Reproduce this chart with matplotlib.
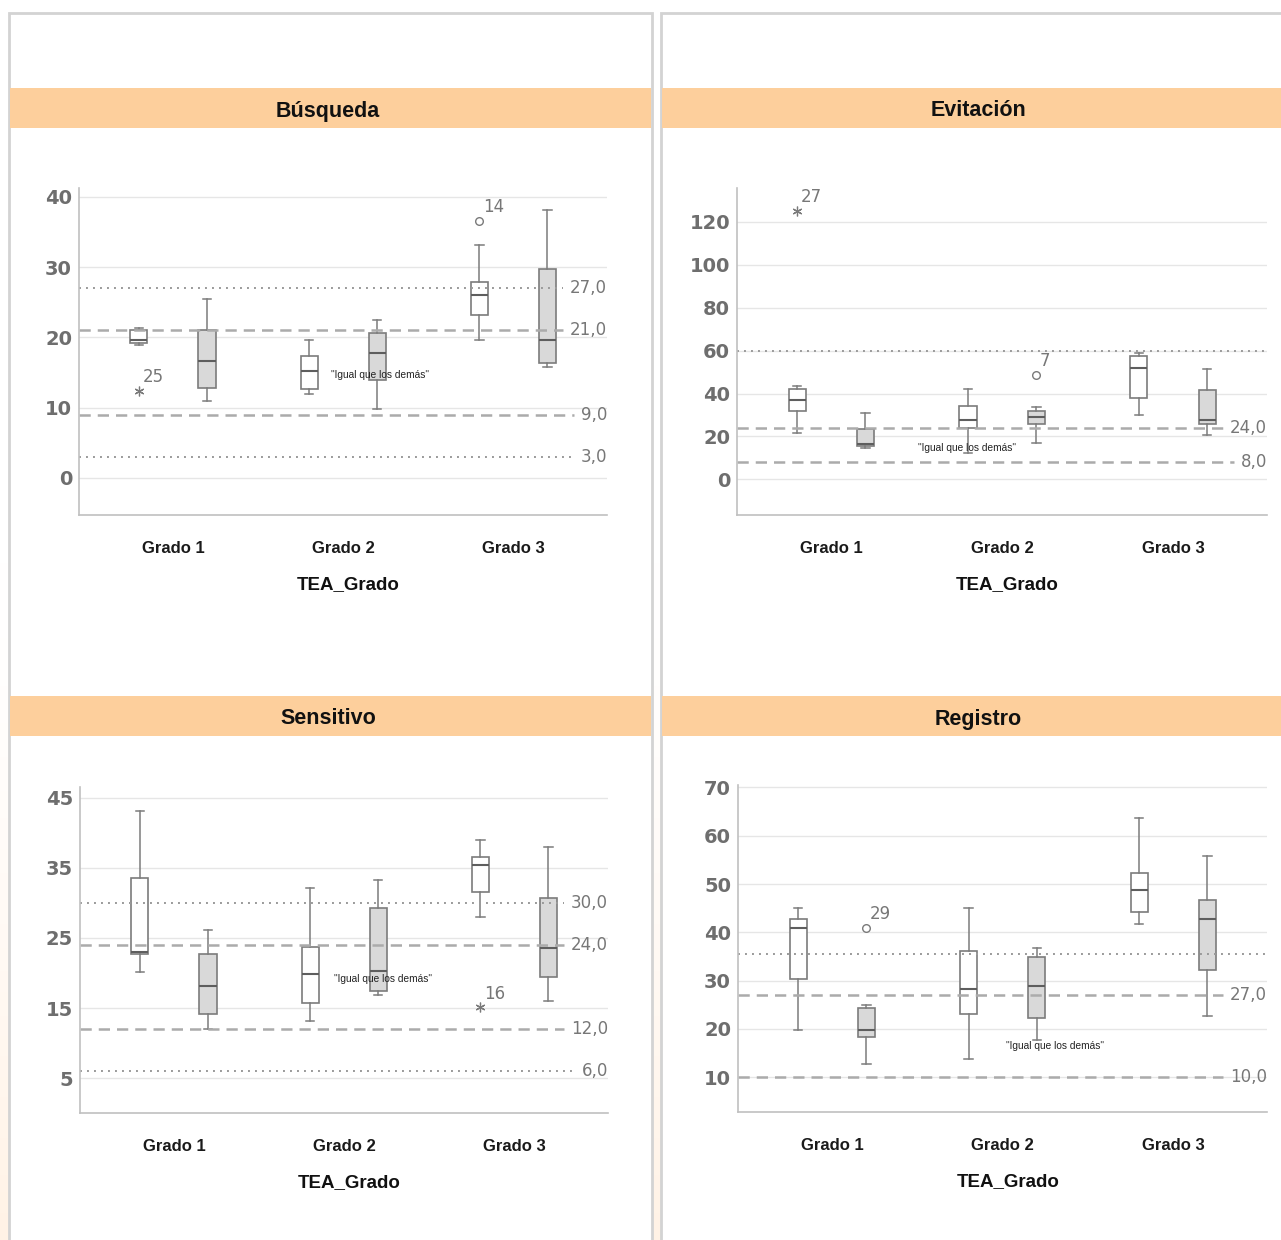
import numpy as np
import matplotlib
matplotlib.use('Agg')
import matplotlib.pyplot as plt
from matplotlib.patches import Rectangle

W, H = 1281, 1240

grados = ['Grado 1', 'Grado 2', 'Grado 3']
eje_x = 'TEA_Grado'
nota = '"Igual que los demás"'
titulos = ['Búsqueda', 'Evitación', 'Sensitivo', 'Registro']

# cada fila: whislo, q1, med, q3, whishi (Grado 1, 2, 3)
busq_blanco = [[18.9, 19.2, 19.6, 21.0, 21.3], [12.0, 12.7, 15.3, 17.3, 19.7], [19.6, 23.2, 26.0, 27.9, 33.1]]
busq_gris = [[11.0, 12.8, 16.7, 21.0, 25.5], [9.8, 13.9, 17.8, 20.6, 22.5], [15.8, 16.3, 19.6, 29.8, 38.1]]
busq_ref = [27, 21, 9, 3]
busq_ref_lbl = ['27,0', '21,0', '9,0', '3,0']
busq_ref_tipo = ['dot', 'dash', 'dash', 'dot']
busq_atip = [(0, 12.4, 'star', '25'), (4, 36.6, 'circle', '14')]

evit_blanco = [[21.7, 32.1, 36.8, 42.1, 43.6], [12.4, 24.0, 27.6, 34.0, 42.2], [29.8, 38.0, 52.0, 57.6, 58.7]]
evit_gris = [[14.7, 15.7, 16.6, 23.3, 30.9], [16.8, 25.9, 29.3, 32.1, 33.7], [20.6, 25.9, 27.5, 41.8, 51.5]]
evit_ref = [60, 24, 8]
evit_ref_lbl = ['', '24,0', '8,0']
evit_ref_tipo = ['dot', 'dash', 'dash']
evit_atip = [(0, 125.0, 'star', '27'), (3, 48.7, 'circle', '7')]

sens_blanco = [[20.2, 22.7, 23.0, 33.6, 43.1], [13.2, 15.8, 19.8, 23.7, 32.1], [28.0, 31.5, 35.4, 36.5, 39.0]]
sens_gris = [[12.0, 14.2, 18.2, 22.7, 26.2], [16.9, 17.4, 20.3, 29.3, 33.3], [16.0, 19.4, 23.5, 30.7, 37.9]]
sens_ref = [30, 24, 12, 6]
sens_ref_lbl = ['30,0', '24,0', '12,0', '6,0']
sens_ref_tipo = ['dot', 'dash', 'dash', 'dot']
sens_atip = [(4, 15.1, 'star', '16')]

reg_blanco = [[19.8, 30.3, 40.9, 42.8, 45.0], [13.8, 23.0, 28.3, 36.2, 45.0], [41.7, 44.3, 48.7, 52.3, 63.7]]
reg_gris = [[12.7, 18.3, 19.7, 24.3, 24.9], [17.7, 22.2, 28.8, 34.8, 36.8], [22.6, 32.3, 42.8, 46.7, 55.9]]
reg_ref = [35.6, 27, 10]
reg_ref_lbl = ['', '27,0', '10,0']
reg_ref_tipo = ['dot', 'dash', 'dash']
reg_atip = [(1, 40.9, 'circle', '29')]

SANS = ['Liberation Sans', 'DejaVu Sans']
GRIS_BORDE = '#7c7c7c'
NARANJA = '#fdcf9c'

fig = plt.figure(figsize=(W / 100, H / 100), dpi=100)

# fondo, marcos de panel y bandas de titulo, en pixeles
bg = fig.add_axes([0, 0, 1, 1], zorder=-10)
bg.set_xlim(0, W)
bg.set_ylim(H, 0)
bg.axis('off')
grad = np.linspace(0, 1, 200).reshape(-1, 1) ** 1.5
tinte = np.ones((200, 1, 3))
tinte[:, 0, 1] = 1 - 0.05 * grad[:, 0]
tinte[:, 0, 2] = 1 - 0.10 * grad[:, 0]
bg.imshow(tinte, extent=(0, W, H, 560), aspect='auto', zorder=0)
for x0, x1 in [(9, 652), (661, 1300)]:
    bg.add_patch(Rectangle((x0, 13), x1 - x0, 1260, facecolor='white',
                           edgecolor='#d3d3d3', lw=2, zorder=1))
bandas = [(10, 651, 88, 128, 328), (662, 1281, 88, 128, 978),
          (10, 651, 696, 736, 328), (662, 1281, 696, 736, 978)]
for (x0, x1, y0, y1, xc), tit in zip(bandas, titulos):
    bg.add_patch(Rectangle((x0, y0), x1 - x0, y1 - y0, facecolor=NARANJA,
                           edgecolor='none', zorder=2))
    bg.text(xc, (y0 + y1) / 2 + 3, tit, ha='center', va='center', fontsize=15.5,
            fontweight='bold', family=SANS, color='#111111', zorder=3)

paneles = [
    dict(caja=(79, 188, 607, 515), ylim=(-5.27, 41.28), yticks=range(0, 41, 10),
         blanco=busq_blanco, gris=busq_gris, ref=busq_ref, lbl=busq_ref_lbl,
         tipo=busq_ref_tipo, atip=busq_atip, nota=(1.93, 14.7)),
    dict(caja=(737, 188, 1267, 515), ylim=(-16.6, 135.8), yticks=range(0, 121, 20),
         blanco=evit_blanco, gris=evit_gris, ref=evit_ref, lbl=evit_ref_lbl,
         tipo=evit_ref_tipo, atip=evit_atip, nota=(1.51, 14.6)),
    dict(caja=(80, 787, 608, 1113), ylim=(0.06, 46.5), yticks=range(5, 46, 10),
         blanco=sens_blanco, gris=sens_gris, ref=sens_ref, lbl=sens_ref_lbl,
         tipo=sens_ref_tipo, atip=sens_atip, nota=(1.94, 19.1)),
    dict(caja=(738, 785, 1267, 1112), ylim=(2.8, 70.5), yticks=range(10, 71, 10),
         blanco=reg_blanco, gris=reg_gris, ref=reg_ref, lbl=reg_ref_lbl,
         tipo=reg_ref_tipo, atip=reg_atip, nota=(2.02, 16.5)),
]

x_cat = np.arange(1, 4)
desp = 0.2


def stats_de(filas):
    return [dict(whislo=f[0], q1=f[1], med=f[2], q3=f[3], whishi=f[4], fliers=[]) for f in filas]


pendientes = []
for p in paneles:
    x0, y0, x1, y1 = p['caja']
    ax = fig.add_axes([x0 / W, 1 - y1 / H, (x1 - x0) / W, (y1 - y0) / H], zorder=5)
    ax.set_facecolor('none')
    ax.set_xlim(0.448, 3.55)
    ax.set_ylim(*p['ylim'])
    ax.set_yticks(list(p['yticks']))
    ax.yaxis.grid(True, color='#e6e6e6', lw=1)
    ax.set_axisbelow(True)
    for s in ['top', 'right']:
        ax.spines[s].set_visible(False)
    for s in ['left', 'bottom']:
        ax.spines[s].set_color('#c0c0c0')
        ax.spines[s].set_linewidth(1.2)
    ax.tick_params(length=0)
    ax.tick_params(axis='y', labelsize=14, labelcolor='#6e6e6e', pad=5)
    for t in ax.get_yticklabels():
        t.set_fontweight('bold')
    ax.set_xticks(x_cat)
    ax.set_xticklabels(grados, fontsize=12, fontweight='bold', family=SANS, color='#1a1a1a')
    ax.tick_params(axis='x', pad=19)
    ax.set_xlabel(eje_x, fontsize=13.5, fontweight='bold', family=SANS, color='#111111')
    ax.xaxis.set_label_coords(0.51, -0.212)
    ax.xaxis.label.set_va('center')

    comun = dict(widths=0.1, patch_artist=True, showfliers=False, capwidths=0.05,
                 medianprops=dict(color='#5e5e5e', lw=1.5),
                 whiskerprops=dict(color=GRIS_BORDE, lw=1.1),
                 capprops=dict(color=GRIS_BORDE, lw=1.1), manage_ticks=False)
    ax.bxp(stats_de(p['blanco']), positions=x_cat - desp,
           boxprops=dict(facecolor='white', edgecolor=GRIS_BORDE, lw=1.2), **comun)
    ax.bxp(stats_de(p['gris']), positions=x_cat + desp,
           boxprops=dict(facecolor='#d9d9d9', edgecolor=GRIS_BORDE, lw=1.2), **comun)

    pos_cajas = [x + d for x in x_cat for d in (-desp, desp)]
    for idx, val, forma, caso in p['atip']:
        if forma == 'star':
            ax.plot(pos_cajas[idx], val, marker=(6, 2, 0), ms=7, color='#7a7a7a', mew=0.9, zorder=6)
        else:
            ax.plot(pos_cajas[idx], val, marker='o', ms=5.5, mfc='white', mec='#7a7a7a', mew=1, zorder=6)
        ax.annotate(caso, (pos_cajas[idx], val), xytext=(2.5, 3.5), textcoords='offset points',
                    ha='left', va='bottom', fontsize=12, color='#777777', zorder=6)

    ax.text(p['nota'][0], p['nota'][1], nota, ha='left', va='center', fontsize=7.3,
            family=SANS, color='#222222', zorder=7)

    for val, lbl, tipo in zip(p['ref'], p['lbl'], p['tipo']):
        t = None
        if lbl:
            t = ax.text(1.0, val, lbl, transform=ax.get_yaxis_transform(), ha='right',
                        va='center', fontsize=12, color='#777777', zorder=6)
        pendientes.append((ax, val, tipo, t))

fig.canvas.draw()
rend = fig.canvas.get_renderer()
for ax, val, tipo, t in pendientes:
    bb_ax = ax.get_window_extent(rend)
    x_fin = 1.0
    if t is not None:
        bb = t.get_window_extent(rend)
        x_fin = (bb.x0 - 7 - bb_ax.x0) / bb_ax.width
    if tipo == 'dot':
        ls = (0, (1, 2.6))
        ax.plot([0, x_fin], [val, val], transform=ax.get_yaxis_transform(), color='#9a9a9a',
                lw=1.4, ls=ls, zorder=2)
    else:
        ls = (0, (4.5, 2.8))
        ax.plot([0, x_fin], [val, val], transform=ax.get_yaxis_transform(), color='#ababab',
                lw=1.8, ls=ls, zorder=2)

fig.savefig('out.png', dpi=100)
